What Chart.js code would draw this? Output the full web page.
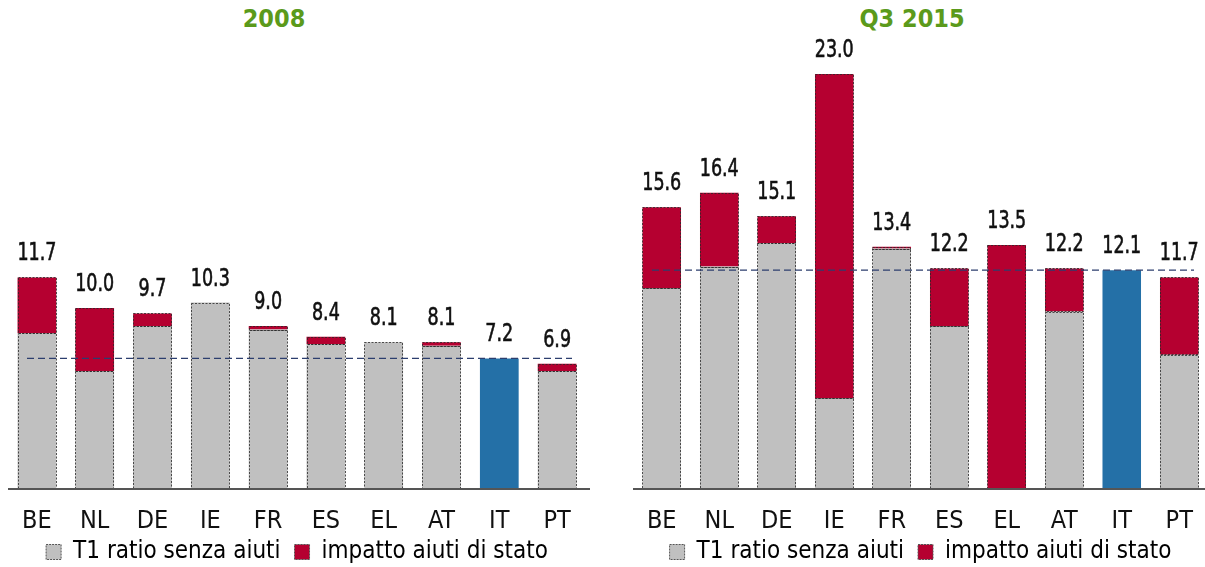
<!DOCTYPE html>
<html><head><meta charset="utf-8">
<script src="https://cdn.jsdelivr.net/npm/chart.js@4/dist/chart.umd.min.js"></script>
<style>
html,body{margin:0;padding:0;background:#fff;overflow:hidden;width:1205px;height:567px;}
.wrap{position:absolute;top:0;height:567px;}
.ttl{position:absolute;top:4px;font-family:"DejaVu Sans Condensed","DejaVu Sans",sans-serif;font-weight:bold;font-size:25px;color:#5b9a1b;transform:translateX(-50%);white-space:nowrap;}
</style></head>
<body>
<div class="ttl" style="left:274px">2008</div>
<div class="ttl" style="left:912px">Q3 2015</div>
<div class="wrap" style="left:0;width:600px"><canvas id="c1" width="600" height="567"></canvas></div>
<div class="wrap" style="left:625px;width:590px"><canvas id="c2" width="590" height="567"></canvas></div>
<script>
const categories = ['BE','NL','DE','IE','FR','ES','EL','AT','IT','PT'];
const seriesNames = ['T1 ratio senza aiuti','impatto aiuti di stato'];
// 2008
const base2008 = [8.6, 6.5, 9.0, 10.3, 8.8, 8.0, 8.1, 7.9, 7.2, 6.5];
const aid2008  = [3.1, 3.5, 0.7, 0.0, 0.2, 0.4, 0.0, 0.2, 0.0, 0.4];
const total2008 = ['11.7','10.0','9.7','10.3','9.0','8.4','8.1','8.1','7.2','6.9'];
// Q3 2015
const base2015 = [11.1, 12.3, 13.6, 5.0, 13.3, 9.0, 0.0, 9.8, 12.1, 7.4];
const aid2015  = [4.5, 4.1, 1.5, 18.0, 0.1, 3.2, 13.5, 2.4, 0.0, 4.3];
const total2015 = ['15.6','16.4','15.1','23.0','13.4','12.2','13.5','12.2','12.1','11.7'];
const refCountry = 'IT';
const yMax = 25;

const FONT = '"DejaVu Sans Condensed","DejaVu Sans",sans-serif';
const GRAY = '#c0c0c0', RED = '#b50030', BLUE = '#2470a7';

const overlay = {
  id:'overlay',
  afterLayout(chart){
    // let tick labels extend below the axis box without being clipped
    chart.scales.x.bottom = chart.scales.x.top + 52;
  },
  afterDatasetsDraw(chart, args, opts){
    const ctx = chart.ctx;
    const ys = chart.scales.y;
    const area = chart.chartArea;
    ctx.save();
    ctx.setLineDash([2,1.5]);
    ctx.strokeStyle = 'rgba(40,40,40,0.8)';
    ctx.lineWidth = 1;
    chart.data.datasets.forEach((ds, di) => {
      const meta = chart.getDatasetMeta(di);
      meta.data.forEach((el, i) => {
        if (!ds.data[i]) return;
        if (categories[i] === refCountry) return;
        const p = el.getProps(['x','y','base','width'], true);
        const top = Math.min(p.y, p.base), h = Math.abs(p.base - p.y);
        ctx.strokeRect(Math.round(p.x - p.width/2)+0.5, Math.round(top)+0.5, Math.round(p.width)-1, Math.max(1, Math.round(h)));
      });
    });
    ctx.restore();
    const idx = categories.indexOf(refCountry);
    const refVal = opts.base[idx] + opts.aid[idx];
    const yy = ys.getPixelForValue(refVal);
    ctx.save();
    ctx.setLineDash([7,4]);
    ctx.strokeStyle = '#2c3e6e';
    ctx.lineWidth = 1.3;
    ctx.beginPath();
    ctx.moveTo(area.left + 19, yy);
    ctx.lineTo(area.right - 14, yy);
    ctx.stroke();
    ctx.restore();
    ctx.save();
    ctx.strokeStyle = '#555';
    ctx.lineWidth = 2;
    ctx.beginPath();
    ctx.moveTo(area.left, area.bottom + 1);
    ctx.lineTo(area.right + 4, area.bottom + 1);
    ctx.stroke();
    ctx.restore();
    ctx.save();
    ctx.font = '25px ' + FONT;
    ctx.fillStyle = '#111';
    ctx.strokeStyle = '#111';
    ctx.lineWidth = 0.6;
    ctx.textAlign = 'center';
    ctx.textBaseline = 'alphabetic';
    const m0 = chart.getDatasetMeta(0);
    categories.forEach((c, i) => {
      const tot = opts.base[i] + opts.aid[i];
      const x = m0.data[i].x;
      const y = ys.getPixelForValue(tot) - 17;
      ctx.save();
      ctx.translate(x, y);
      ctx.scale(0.78, 1);
      ctx.fillText(opts.labels[i], 0, 0);
      ctx.strokeText(opts.labels[i], 0, 0);
      ctx.restore();
    });
    ctx.restore();
  }
};

function makeChart(id, base, aid, labels, pad){
  const baseColors = categories.map(c => c === refCountry ? BLUE : GRAY);
  return new Chart(document.getElementById(id), {
    type:'bar',
    data:{
      labels: categories,
      datasets:[
        {label: seriesNames[0], data: base, backgroundColor: baseColors, borderWidth:0},
        {label: seriesNames[1], data: aid, backgroundColor: RED, borderWidth:0}
      ]
    },
    options:{
      responsive:false, animation:false,
      layout:{padding:{top:38, left:pad.left, right:pad.right, bottom:0}},
      datasets:{bar:{categoryPercentage:1, barPercentage:0.67}},
      scales:{
        x:{stacked:true, grid:{display:false, drawTicks:false}, border:{display:false},
           afterFit: s => { s.height = 38; },
           ticks:{padding:21, color:'#111', font:{family:FONT, size:25, lineHeight:1}}},
        y:{stacked:true, display:false, min:0, max:yMax}
      },
      plugins:{
        legend:{position:'bottom', maxHeight:41,
          labels:{boxWidth:15, boxHeight:15, padding:14, color:'#111', font:{family:FONT, size:24, lineHeight:1},
            generateLabels: ch => ch.data.datasets.map((ds,i)=>({
              text: ds.label, fillStyle: i===0?GRAY:RED, strokeStyle:'#555', lineWidth:1,
              lineDash:[2,1], datasetIndex:i, hidden:false }))}},
        tooltip:{enabled:false},
        overlay:{base, aid, labels}
      }
    },
    plugins:[overlay]
  });
}
makeChart('c1', base2008, aid2008, total2008, {left:8, right:14});
makeChart('c2', base2015, aid2015, total2015, {left:8, right:7});
</script>
</body></html>
